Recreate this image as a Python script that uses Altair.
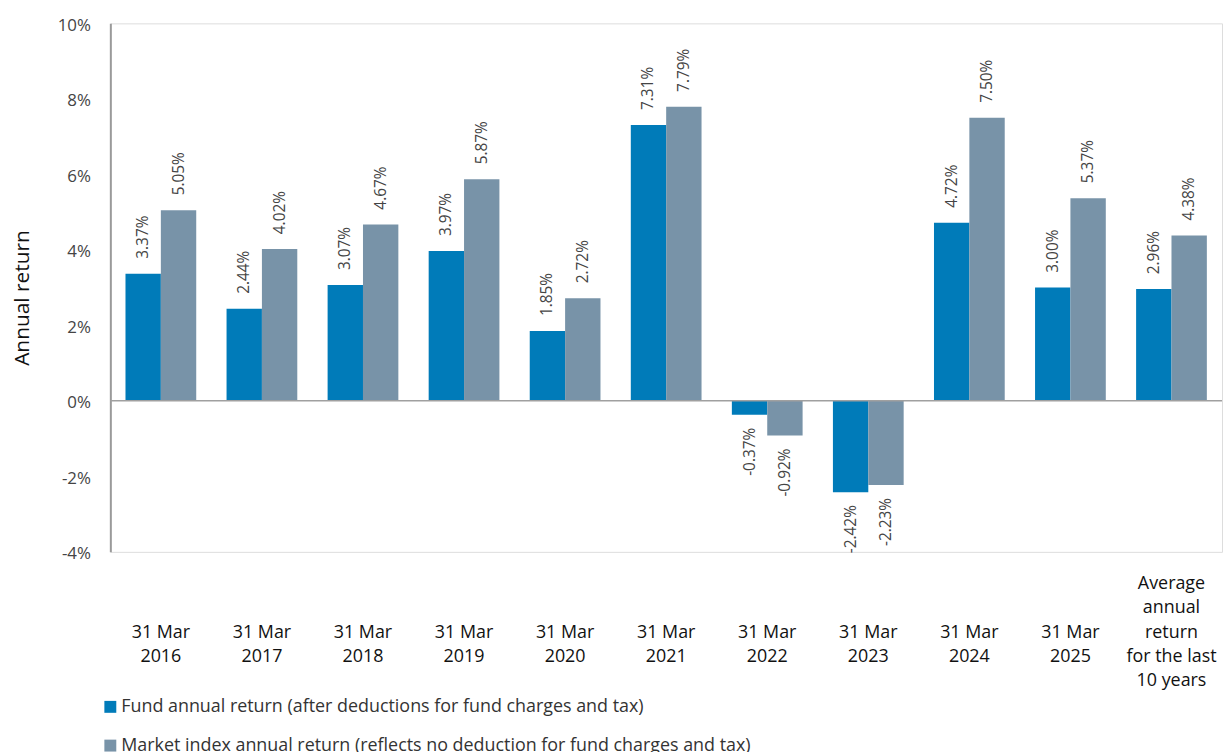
import altair as alt
import pandas as pd

categories = ["31 Mar|2016", "31 Mar|2017", "31 Mar|2018", "31 Mar|2019", "31 Mar|2020",
              "31 Mar|2021", "31 Mar|2022", "31 Mar|2023", "31 Mar|2024", "31 Mar|2025",
              "Average|annual|return|for the last|10 years"]
fund = [3.37, 2.44, 3.07, 3.97, 1.85, 7.31, -0.37, -2.42, 4.72, 3.00, 2.96]
market = [5.05, 4.02, 4.67, 5.87, 2.72, 7.79, -0.92, -2.23, 7.50, 5.37, 4.38]
series = ["Fund annual return (after deductions for fund charges and tax)",
          "Market index annual return (reflects no deduction for fund charges and tax)"]
colors = ["#007BB9", "#7893A8"]
y_ticks = [-4, -2, 0, 2, 4, 6, 8, 10]

rows = []
for c, f, m in zip(categories, fund, market):
    rows.append({"cat": c, "series": series[0], "value": f, "label": f"{f:.2f}%"})
    rows.append({"cat": c, "series": series[1], "value": m, "label": f"{m:.2f}%"})
df = pd.DataFrame(rows)

FONT = "Open Sans"

x_enc = alt.X("cat:N", sort=categories,
              scale=alt.Scale(paddingInner=0.3, paddingOuter=0.15),
              axis=alt.Axis(title=None, labelExpr="split(datum.label, '|')", labelAngle=0,
                            labelBaseline="middle",
                            labelPadding={"condition": {"test": "indexof(datum.label, 'Average') >= 0",
                                                        "value": 32},
                                          "value": 81},
                            ticks=False, tickSize=0,
                            domain=False, labelFontSize=18, labelColor="#111",
                            labelLineHeight=24.5, labelFont=FONT, labelOverlap=False))
xo_enc = alt.XOffset("series:N", sort=series, scale=alt.Scale(paddingInner=0, paddingOuter=0))
y_scale = alt.Scale(domain=[-4, 10], nice=False, zero=False)

base = alt.Chart(df).encode(x=x_enc, xOffset=xo_enc)

bars = base.mark_bar().encode(
    y=alt.Y("value:Q", scale=y_scale,
            axis=alt.Axis(values=y_ticks, labelExpr="datum.value + '%'", grid=False, ticks=False,
                          domainColor="#9a9a9a", domainWidth=2, labelPadding=20,
                          labelFontSize=17, labelColor="#444", labelFont=FONT, labelOffset=2,
                          title="Annual return", titleX=-88, titleY=276, titleAngle=270,
                          titleAlign="center", titleBaseline="middle", titleFontSize=21,
                          titleFontWeight="normal", titleColor="#111", titleFont=FONT)),
    color=alt.Color("series:N", sort=series,
                    scale=alt.Scale(domain=series, range=colors),
                    legend=alt.Legend(title=None, orient="none", legendX=-9, legendY=679,
                                      direction="vertical", symbolType="square", symbolSize=144,
                                      symbolStrokeWidth=0, labelFontSize=18, labelColor="#333",
                                      labelFont=FONT, labelLimit=1100, rowPadding=21,
                                      labelOffset=2)),
)

pos_labels = base.mark_text(angle=270, align="left", baseline="middle", dx=15,
                            fontSize=15.5, color="#444", font=FONT).encode(
    y=alt.Y("value:Q", scale=y_scale), text="label:N"
).transform_filter("datum.value >= 0")

neg_labels = base.mark_text(angle=270, align="right", baseline="middle", dx=-13,
                            fontSize=15.5, color="#444", font=FONT).encode(
    y=alt.Y("value:Q", scale=y_scale), text="label:N"
).transform_filter("datum.value < 0")

zero_rule = alt.Chart(pd.DataFrame({"z": [0]})).mark_rule(color="#a0a0a0", strokeWidth=1.5).encode(
    y=alt.Y("z:Q", scale=y_scale)
)

chart = alt.layer(bars, zero_rule, pos_labels, neg_labels).properties(
    width=1119, height=532,
    autosize=alt.AutoSizeParams(type="none"),
    padding={"left": 103, "top": 13, "right": 2, "bottom": 199},
).configure_view(fill="#EEF3F6", stroke="transparent").configure(font=FONT)

chart.save("out.html", embed_options={"renderer": "svg", "actions": False})
